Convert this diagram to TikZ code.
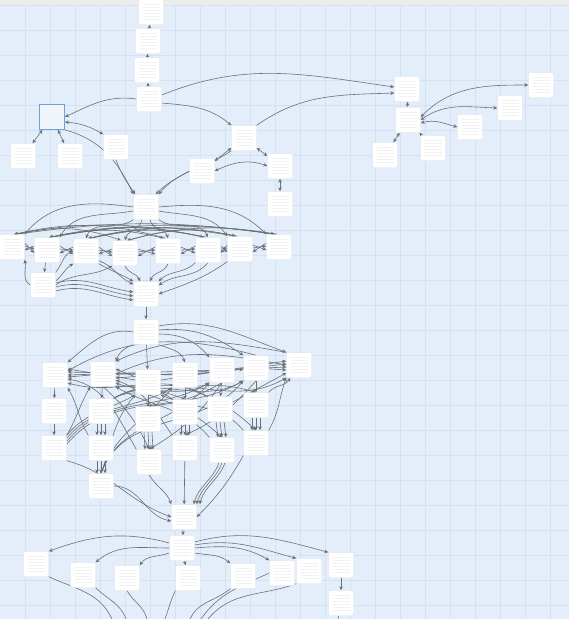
\documentclass[tikz,border=0pt]{standalone}
\usepackage{tikz}
\usetikzlibrary{arrows.meta,backgrounds}
\usepackage{xcolor}
\definecolor{paperblue}{HTML}{E4EEFB}
\definecolor{gridblue}{HTML}{D3E1F2}
\definecolor{topgray}{HTML}{ECECEC}
\definecolor{edgegray}{HTML}{6A7075}
\definecolor{selblue}{HTML}{6A9FD8}
\pgfdeclarelayer{edges}
\pgfsetlayers{background,edges,main}

\begin{document}
\begin{tikzpicture}[x=1pt, y=1pt, >={Stealth[length=4pt,width=3.6pt]},
  card/.style={rectangle, fill=white, draw=black!12, rounded corners=1.2pt,
    minimum width=25pt, minimum height=25pt, inner sep=0pt,
    path picture={\foreach \k in {-7.5,-4.5,...,7.5}
      \draw[black!5, line width=0.3pt] ([xshift=4pt,yshift=\k pt]path picture bounding box.west)
        -- ([xshift=-4pt,yshift=\k pt]path picture bounding box.east);}},
  selcard/.style={rectangle, fill=white!90!selblue, draw=selblue, line width=0.8pt,
    minimum width=25pt, minimum height=25pt, inner sep=0pt},
  e/.style={draw=edgegray, line width=0.6pt, ->},
  de/.style={draw=edgegray, line width=0.6pt, <->},
  ln/.style={draw=edgegray, line width=0.6pt}]
  \useasboundingbox (0,0) rectangle (569,-619);
  % Raster
  \begin{scope}[on background layer]
    \fill[paperblue] (0,0) rectangle (569,-619);
    \foreach \gx in {25,50,...,550} \draw[gridblue, line width=0.5pt] (\gx,0) -- (\gx,-619);
    \foreach \gy in {5,30,...,605} \draw[gridblue, line width=0.5pt] (0,-\gy) -- (569,-\gy);
    \fill[topgray] (0,0) rectangle (569,-5);
  \end{scope}
  % Karten oben
  \foreach \n/\x/\y in {n1/151/12, n2/148/41, n3/147/70, n4/149/99,
      a1/23/156, a2/70/156, a3/116/147,
      b1/244/138, b2/202/171, b3/280/166, b4/280/204,
      r1/407/89, r2/408/120, r3/385/155, r4/433/148, r5/470/127, r6/510/108, r7/541/85}
    \node[card] (\n) at (\x,-\y) {};
  \node[selcard] (sel) at (52,-117) {};
  % Block 1
  \foreach \n/\x/\y in {m0/146/207, p1/12/247, p2/47/250, p3/86/251, p4/125/253,
      p5/168/251, p6/208/250, p7/240/249, p8/279/247, q/43/285, m9/146/294}
    \node[card] (\n) at (\x,-\y) {};
  % Block 2
  \foreach \n/\x/\y in {c0/146/332,
      s1/55/375, s2/103/374, s3/148/382, s4/185/375, s5/222/370, s6/256/368, s7/299/365,
      t1/54/411, t2/101/411, t3/148/419, t4/185/412, t5/220/409, t6/256/405,
      u1/54/448, u2/101/448, u3/149/462, u4/185/448, u5/222/450, u6/256/443,
      v/101/486, c9/184/517}
    \node[card] (\n) at (\x,-\y) {};
  % Karten unten
  \foreach \n/\x/\y in {d0/182/548, e1/36/564, e2/83/575, e3/127/578, e4/188/578,
      e5/243/576, e6/282/573, e7/309/571, e8/341/565, e9/341/603}
    \node[card] (\n) at (\x,-\y) {};
  \foreach \n/\x in {o1/112, o2/126, o3/147, o4/165, o5/190, o6/201, o7/208, o8/338}
    \coordinate (\n) at (\x,-619);

  \begin{pgfonlayer}{edges}
  % oben
  \draw[e] (n2) -- (n1);
  \draw[e] (n3) -- (n2);
  \draw[e] (n4) -- (n3);
  \draw[e] (n4.west) to[out=172,in=25] (sel.east);
  \draw[e] ([yshift=-4pt]n4.east) to[out=-5,in=140] (b1.north west);
  \draw[e] ([yshift=4pt]n4.east) to[out=22,in=172] ([yshift=2pt]r1.west);
  \draw[e] (b1.north east) to[out=35,in=182] ([yshift=-4pt]r1.west);
  \draw[de] (sel) -- (a1);
  \draw[de] (sel) -- (a2);
  \draw[de] ([yshift=-5pt]sel.east) to[out=-5,in=150] (a3.north west);
  \draw[e] (sel.south east) to[out=-15,in=115] (m0.north west);
  \draw[e] (a3.south) to[out=-70,in=125] ([xshift=2pt]m0.north west);
  \draw[e] (b1.south west) to[out=215,in=50] (m0.north east);
  \draw[e] (b2.west) to[out=210,in=45] ([xshift=-3pt]m0.north east);
  \draw[de] (b2) -- (b1);
  \draw[de] (b2.east) to[out=25,in=160] (b3.west);
  \draw[de] (b1) -- (b3);
  \draw[de] (b3) -- (b4);
  % rechts
  \draw[e] (r2) -- (r1);
  \draw[de] (r2) -- (r3);
  \draw[e] (r4) -- (r2);
  \draw[de] ([yshift=-3pt]r2.east) to[out=15,in=165] (r5.west);
  \draw[de] (r2.east) to[out=35,in=178] (r6.west);
  \draw[de] ([yshift=3pt]r2.east) to[out=45,in=180] (r7.west);
  % Block 1
  \draw[e] (m0.west) to[out=172,in=50] (p1.north east);
  \draw[e] ([yshift=-4pt]m0.west) to[out=190,in=60] (p2.north east);
  \draw[e] (m0.south west) to[out=215,in=70] (p3.north);
  \draw[e] ([xshift=-4pt]m0.south) to[out=-100,in=75] (p4.north);
  \draw[e] ([xshift=4pt]m0.south) to[out=-80,in=105] (p5.north);
  \draw[e] (m0.south east) to[out=-35,in=115] (p6.north);
  \draw[e] ([yshift=-4pt]m0.east) to[out=-10,in=125] (p7.north west);
  \draw[e] (m0.east) to[out=5,in=135] (p8.north west);
  \foreach \a/\b/\k in {p1/p4/16, p2/p5/13, p2/p7/10, p3/p6/13, p3/p8/10, p4/p7/15, p1/p8/8}
    \draw[e] ([xshift=4pt]\a.north) to[bend left=\k] ([xshift=-4pt]\b.north);
  \foreach \a/\b/\k in {p1/p6/11, p2/p8/9, p3/p7/12, p4/p8/12, p2/p6/12, p1/p5/14}
    \draw[e] ([xshift=-2pt]\b.north) to[bend right=\k] ([xshift=2pt]\a.north);
  \foreach \a/\b in {p1/p2, p2/p3, p3/p4, p4/p5, p5/p6, p6/p7, p7/p8} {
    \draw[e] ([yshift=4pt]\a.east) -- ([yshift=-3pt]\b.west);
    \draw[e] ([yshift=4pt]\b.west) -- ([yshift=-3pt]\a.east);
    \draw[e] ([yshift=1pt]\a.east) -- ([yshift=1pt]\b.west);
  }
  \draw[e] (p2) -- (q);
  \draw[e] (q.west) to[out=150,in=-80] (p1.south east);
  \draw[e] (q.north east) to[out=50,in=200] (p3.west);
  \draw[e] ([yshift=4pt]q.east) to[out=40,in=210] (p3.south west);
  \draw[e] (q.east) to[out=35,in=210] (p4.south west);
  \foreach \d in {-6,-2,2}
    \draw[e] ([yshift=\d pt]q.east) to[out=15,in=172] ([yshift=\d pt]m9.west);
  \draw[e] (p3.south east) to[out=-30,in=150] (m9.north west);
  \draw[e] ([yshift=3pt]p3.south east) to[out=-20,in=155] ([yshift=-3pt]m9.north west);
  \draw[e] (p4.south) to[out=-70,in=110] ([xshift=-6pt]m9.north);
  \draw[e] (p5.south) to[out=-110,in=70] ([xshift=4pt]m9.north);
  \draw[e] (p6.south west) to[out=-135,in=45] (m9.north east);
  \draw[e] (p6.south) to[out=-130,in=35] ([yshift=-4pt]m9.north east);
  \draw[e] (p7.south west) to[out=-145,in=20] (m9.east);
  \draw[e] (m9) -- (c0);
  % Block 2
  \draw[e] (c0.west) to[out=170,in=40] (s1.north east);
  \draw[e] (c0.south west) to[out=200,in=70] (s2.north east);
  \draw[e] (c0) -- (s3);
  \draw[e] (c0.south east) to[out=-20,in=110] (s4.north);
  \draw[e] ([yshift=-2pt]c0.east) to[out=0,in=130] (s5.north west);
  \draw[e] ([yshift=2pt]c0.east) to[out=5,in=145] (s6.north west);
  \draw[e] ([yshift=6pt]c0.east) to[out=10,in=160] (s7.north west);
  \draw[e] (s7.north west) to[out=170,in=25] (s2.north east);
  \draw[e] (s6.north) to[out=165,in=30] ([yshift=4pt]s1.east);
  \draw[e] (s2.east) to[out=25,in=170] (s7.west);
  \foreach \a/\d in {s3/6, s4/3, s5/0, s2/-2} \draw[e] (\a) -- ([yshift=\d pt]s1.east);
  \foreach \a/\d in {s3/5, s4/0, s5/-4} \draw[e] (\a) -- ([yshift=\d pt]s2.east);
  \foreach \a/\d in {s3/4, s4/1, s5/-2, s6/-5, t5/-8} \draw[e] (\a) -- ([yshift=\d pt]s7.west);
  \draw[e] (s4) -- (s6);
  \foreach \b/\k in {s3/0, s4/3, s5/6, s6/9}
    \draw[e] ([yshift=-\k pt]u1.north east) to[out=50,in=210] (\b.south west);
  \foreach \b in {s3, s4, s5, s6} \draw[e] (v.north) to[out=70,in=230] (\b.south west);
  \foreach \b in {s4, s5, s6, s7} \draw[e] (t2.north east) to[out=30,in=210] (\b.south west);
  \draw[e] (u2.north west) to[out=120,in=-60] (s1.south east);
  \draw[e] (u1.north east) to[out=60,in=-120] (s2.south west);
  \foreach \a/\b in {s2/u3, s2/t4, s3/u5, s4/u6, s5/u3, s6/u4, s4/t6, s5/t3}
    \draw[e] (\a.south) to[bend left=12] (\b.north);
  \draw[e] (u3.north west) to[out=120,in=-10] ([yshift=-4pt]s1.east);
  \draw[e] (u4.north west) to[out=125,in=-20] ([yshift=-6pt]s2.east);
  \draw[e] (u5.north west) to[out=130,in=-30] (s2.south east);
  \draw[e] (u6.north west) to[out=130,in=-25] (s3.south east);
  \draw[e] (t5.north west) to[out=150,in=-15] ([yshift=-8pt]s1.east);
  \draw[e] (t4.north west) to[out=140,in=-20] ([yshift=-9pt]s2.east);
  \draw[e] (u6.north east) to[out=60,in=-110] (s7.south west);
  \draw[e] (t6.north east) to[out=50,in=-120] ([xshift=4pt]s7.south west);
  \foreach \a/\b in {s1/t1, t1/u1, s2/t2, s3/t3, s4/t4, s5/t5, s6/t6} \draw[e] (\a) -- (\b);
  \foreach \a/\b in {t2/u2, u2/v, t3/u3, t4/u4, t5/u5, t6/u6}
    \foreach \d in {-4,0,4} \draw[e] ([xshift=\d pt]\a.south) -- ([xshift=\d pt]\b.north);
  \draw[e] (u1.south east) to[out=-15,in=160] (c9.west);
  \draw[e] (v.east) to[out=0,in=170] ([yshift=-4pt]c9.west);
  \draw[e] (u3.south) to[out=-60,in=110] (c9.north west);
  \draw[e] (u4) -- (c9);
  \foreach \d in {-3,0,3}
    \draw[e] ([xshift=\d pt]u5.south) to[out=-110,in=75] ([xshift=\d pt]c9.north east);
  \draw[e] (u6.south west) to[out=-120,in=45] (c9.east);
  % unten
  \draw[e] (c9) -- (d0);
  \draw[e] ([yshift=5pt]d0.west) to[out=165,in=20] (e1.north east);
  \draw[e] (d0.west) to[out=180,in=40] (e2.north east);
  \draw[e] ([yshift=-5pt]d0.west) to[out=200,in=55] (e3.north east);
  \draw[e] (d0) -- (e4);
  \draw[e] ([yshift=-5pt]d0.east) to[out=-10,in=140] (e5.north west);
  \draw[e] (d0.east) to[out=5,in=150] (e6.north west);
  \draw[e] ([yshift=3pt]d0.east) to[out=10,in=165] (e7.north west);
  \draw[e] ([yshift=6pt]d0.east) to[out=15,in=165] (e8.north west);
  \draw[e] (e8) -- (e9);
  \draw[ln] (e1.south east) to[out=-25,in=115] (o1);
  \draw[ln] (e2.south east) to[out=-45,in=110] (o2);
  \draw[ln] (e3.south) to[out=-60,in=105] (o3);
  \draw[ln] (e4.south west) to[out=-115,in=70] (o4);
  \draw[ln] (e5.south west) to[out=-140,in=65] (o5);
  \draw[ln] (e6.west) to[out=-155,in=55] (o6);
  \draw[ln] (e7.south west) to[out=-160,in=50] (o7);
  \draw[ln] (e9) -- (o8);
  \end{pgfonlayer}
\end{tikzpicture}
\end{document}
